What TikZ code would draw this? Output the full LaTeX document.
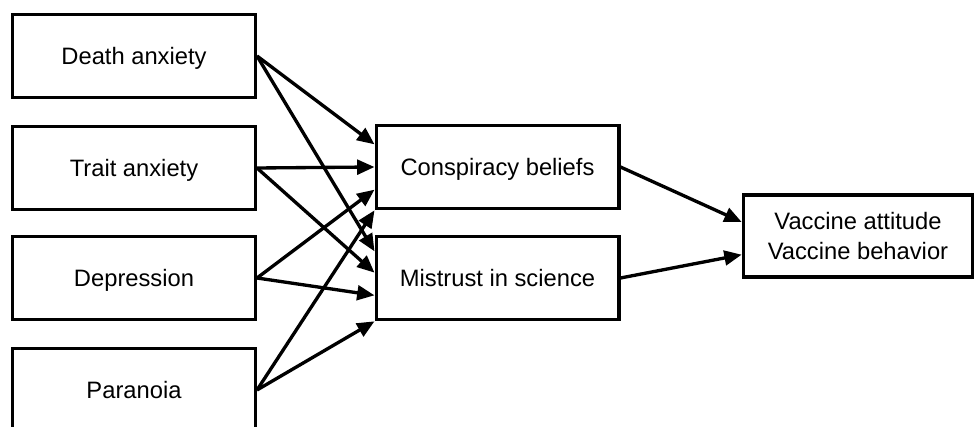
\documentclass[tikz,border=0pt]{standalone}
\usepackage{fontspec}
\setmainfont{Liberation Sans}
\usetikzlibrary{arrows.meta}

\begin{document}
\begin{tikzpicture}[x=0.75pt, y=-0.75pt, line width=2.5pt,
      every node/.append style={font=\fontsize{17.8}{22.5}\selectfont},
      link/.style={-{Triangle[length=13pt,width=11pt]}}]
    \tikzstyle{box} = [draw=black, rectangle, align=center, inner sep=0pt]
    \tikzstyle{factor} = [box, minimum width=182pt, minimum height=62.5pt,
      text height=12.8pt, text depth=0pt]
    \clip (0,0) rectangle (974,427);
    % predictors
    \node [factor] (death) at (134,56) {Death anxiety};
    \node [factor] (trait) at (134,168) {Trait anxiety};
    \node [factor] (depr) at (134,278) {Depression};
    \node [factor] (para) at (134,390) {Paranoia};
    % mediators
    \node [factor] (consp) at (497.5,167) {Conspiracy beliefs};
    \node [factor] (mistr) at (497.5,278) {Mistrust in science};
    % outcome
    \node [box, minimum width=172pt, minimum height=61.5pt] (vacc) at (858,236)
      {Vaccine attitude\\Vaccine behavior};
    \draw [link] (death.east) -- ([yshift=17pt]consp.west);
    \draw [link] (death.east) -- ([yshift=20pt]mistr.west);
    \draw [link] (trait.east) -- (consp.west);
    \draw [link] (trait.east) -- ([yshift=4pt]mistr.west);
    \draw [link] (depr.east) -- ([yshift=-17pt]consp.west);
    \draw [link] (depr.east) -- ([yshift=-13pt]mistr.west);
    \draw [link] (para.east) -- (consp.south west);
    \draw [link] (para.east) -- (mistr.south west);
    \draw [link] (consp.east) -- ([yshift=10.5pt]vacc.west);
    \draw [link] (mistr.east) -- ([yshift=-14pt]vacc.west);
\end{tikzpicture}
\end{document}
